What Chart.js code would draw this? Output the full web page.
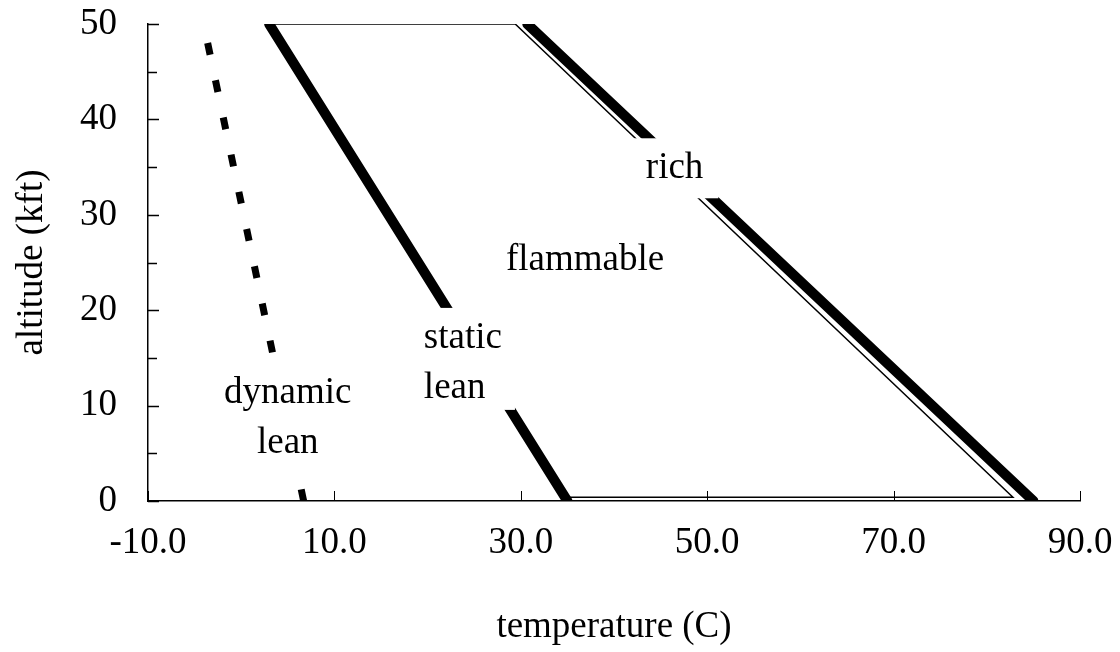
<!DOCTYPE html>
<html>
<head>
<meta charset="utf-8">
<script src="https://cdn.jsdelivr.net/npm/chart.js@4.4.0/dist/chart.umd.min.js"></script>
<style>
  html, body { margin: 0; padding: 0; background: #fff; }
  canvas { display: block; }
</style>
</head>
<body>
<canvas id="chart" width="1120" height="652"></canvas>
<script>
// Flammability limits of fuel vapour: temperature (C) against altitude (kft)
const dynamicLeanT   = [-3.6, 6.7];
const dynamicLeanAlt = [48, 0];
const staticLeanT    = [3, 35];
const staticLeanAlt  = [50, 0];
const richT          = [30.7, 85];
const richAlt        = [50, 0];
const flammableT     = [3, 29.4, 82.8, 35];
const flammableAlt   = [50, 50, 0.4, 0.4];

const xTickValues = [-10, 10, 30, 50, 70, 90];
const xTickLabels = ['-10.0', '10.0', '30.0', '50.0', '70.0', '90.0'];
const yTickValues = [0, 10, 20, 30, 40, 50];
const yTickLabels = ['0', '10', '20', '30', '40', '50'];
const yMinorTicks = [5, 15, 25, 35, 45];

// Region names and where they sit (temperature, altitude of the text block centre)
const regionNames = [['rich'], ['flammable'], ['static', 'lean'], ['dynamic', 'lean']];
const regionT     = [46.5, 36.9, 19.6, 5.0];
const regionAlt   = [35.4, 25.8, 15.0, 9.2];

const FONT_FAMILY = '"Liberation Serif", "Times New Roman", serif';
const FONT_SIZE = 37;

// text alignment and white backing padding [left, top, right, bottom]
const regionStyle = [
  { align: 'center', pad: [15, 0, 15, 10] },
  { align: 'center', pad: [0, 0, 0, 0] },
  { align: 'left',   pad: [6, 0, 13, 2] },
  { align: 'center', pad: [4, 0, 4, 4] }
];

const pts = (xs, ys) => xs.map((v, i) => ({ x: v, y: ys[i] }));

const inwardTicks = {
  id: 'inwardTicks',
  beforeDatasetsDraw(chart) {
    const { ctx, scales: { x, y }, chartArea: a } = chart;
    ctx.save();
    ctx.strokeStyle = '#000';
    ctx.lineWidth = 1.5;
    ctx.beginPath();
    yTickValues.forEach(v => {
      const py = Math.round(y.getPixelForValue(v)) + 0.5;
      ctx.moveTo(a.left, py); ctx.lineTo(a.left + 11, py);
    });
    yMinorTicks.forEach(v => {
      const py = Math.round(y.getPixelForValue(v)) + 0.5;
      ctx.moveTo(a.left, py); ctx.lineTo(a.left + 9, py);
    });
    ctx.stroke();
    ctx.lineWidth = 1;
    ctx.beginPath();
    xTickValues.forEach(v => {
      const px = Math.round(x.getPixelForValue(v)) + 0.5;
      ctx.moveTo(px, a.bottom); ctx.lineTo(px, a.bottom - 10);
    });
    ctx.stroke();
    ctx.restore();
  }
};

const regionLabels = {
  id: 'regionLabels',
  afterDatasetsDraw(chart) {
    const { ctx, scales: { x, y } } = chart;
    const lh = 50;
    ctx.save();
    ctx.font = FONT_SIZE + 'px ' + FONT_FAMILY;
    regionNames.forEach((lines, i) => {
      const st = regionStyle[i];
      const ax = x.getPixelForValue(regionT[i]);
      const ay = y.getPixelForValue(regionAlt[i]);
      const w = Math.max(...lines.map(s => ctx.measureText(s).width));
      const top = ay - lines.length * lh / 2;
      const left = st.align === 'left' ? ax : ax - w / 2;
      ctx.fillStyle = '#fff';
      ctx.fillRect(left - st.pad[0], top - st.pad[1],
                   w + st.pad[0] + st.pad[2], lines.length * lh + st.pad[1] + st.pad[3]);
      ctx.fillStyle = '#000';
      ctx.textAlign = st.align;
      ctx.textBaseline = 'alphabetic';
      lines.forEach((s, k) => ctx.fillText(s, ax, top + k * lh + 40));
    });
    ctx.restore();
  }
};

new Chart(document.getElementById('chart'), {
  type: 'scatter',
  data: {
    datasets: [
      {
        label: 'flammable',
        data: pts(flammableT, flammableAlt),
        showLine: true, borderColor: '#000', borderWidth: 1.5,
        pointRadius: 0, tension: 0
      },
      {
        label: 'dynamic lean',
        data: pts(dynamicLeanT, dynamicLeanAlt),
        showLine: true, borderColor: '#000', borderWidth: 7,
        borderDash: [12, 26], borderCapStyle: 'butt',
        pointRadius: 0, tension: 0
      },
      {
        label: 'static lean',
        data: pts(staticLeanT, staticLeanAlt),
        showLine: true, borderColor: '#000', borderWidth: 10,
        borderCapStyle: 'round', pointRadius: 0, tension: 0
      },
      {
        label: 'rich',
        data: pts(richT, richAlt),
        showLine: true, borderColor: '#000', borderWidth: 10,
        borderCapStyle: 'round', pointRadius: 0, tension: 0
      }
    ]
  },
  options: {
    responsive: false,
    animation: false,
    devicePixelRatio: 1,
    layout: { padding: { top: 24, right: 40, left: 0, bottom: 0 } },
    plugins: { legend: { display: false }, tooltip: { enabled: false } },
    scales: {
      x: {
        type: 'linear', min: -10, max: 90,
        afterFit(scale) {
          scale.height = 151;
          scale.paddingLeft = 0; scale.paddingRight = 0;
        },
        afterBuildTicks(scale) { scale.ticks = xTickValues.map(v => ({ value: v })); },
        ticks: {
          padding: 20, color: '#000', maxRotation: 0, autoSkip: false,
          font: { family: FONT_FAMILY, size: FONT_SIZE, lineHeight: 1.2 },
          callback: (v, i) => xTickLabels[i]
        },
        grid: { display: true, drawOnChartArea: false, drawTicks: false, color: 'rgba(0,0,0,0)' },
        border: { display: true, color: '#000', width: 1.5 },
        title: {
          display: true, text: 'temperature (C)', color: '#000',
          font: { family: FONT_FAMILY, size: FONT_SIZE, lineHeight: 1.2 },
          padding: { top: 0, bottom: 3 }
        }
      },
      y: {
        type: 'linear', min: 0, max: 50,
        afterFit(scale) {
          scale.width = 148;
          scale.paddingTop = 0; scale.paddingBottom = 0;
        },
        afterBuildTicks(scale) { scale.ticks = yTickValues.map(v => ({ value: v })); },
        ticks: {
          padding: 31, color: '#000', autoSkip: false,
          font: { family: FONT_FAMILY, size: FONT_SIZE, lineHeight: 1.2 },
          callback: (v, i) => yTickLabels[i]
        },
        grid: { display: true, drawOnChartArea: false, drawTicks: false, color: 'rgba(0,0,0,0)' },
        border: { display: true, color: '#000', width: 1.5 },
        title: {
          display: true, text: 'altitude (kft)', color: '#000',
          font: { family: FONT_FAMILY, size: FONT_SIZE, lineHeight: 1.2 },
          padding: { top: 10, bottom: 0 }
        }
      }
    }
  },
  plugins: [inwardTicks, regionLabels]
});
</script>
</body>
</html>
